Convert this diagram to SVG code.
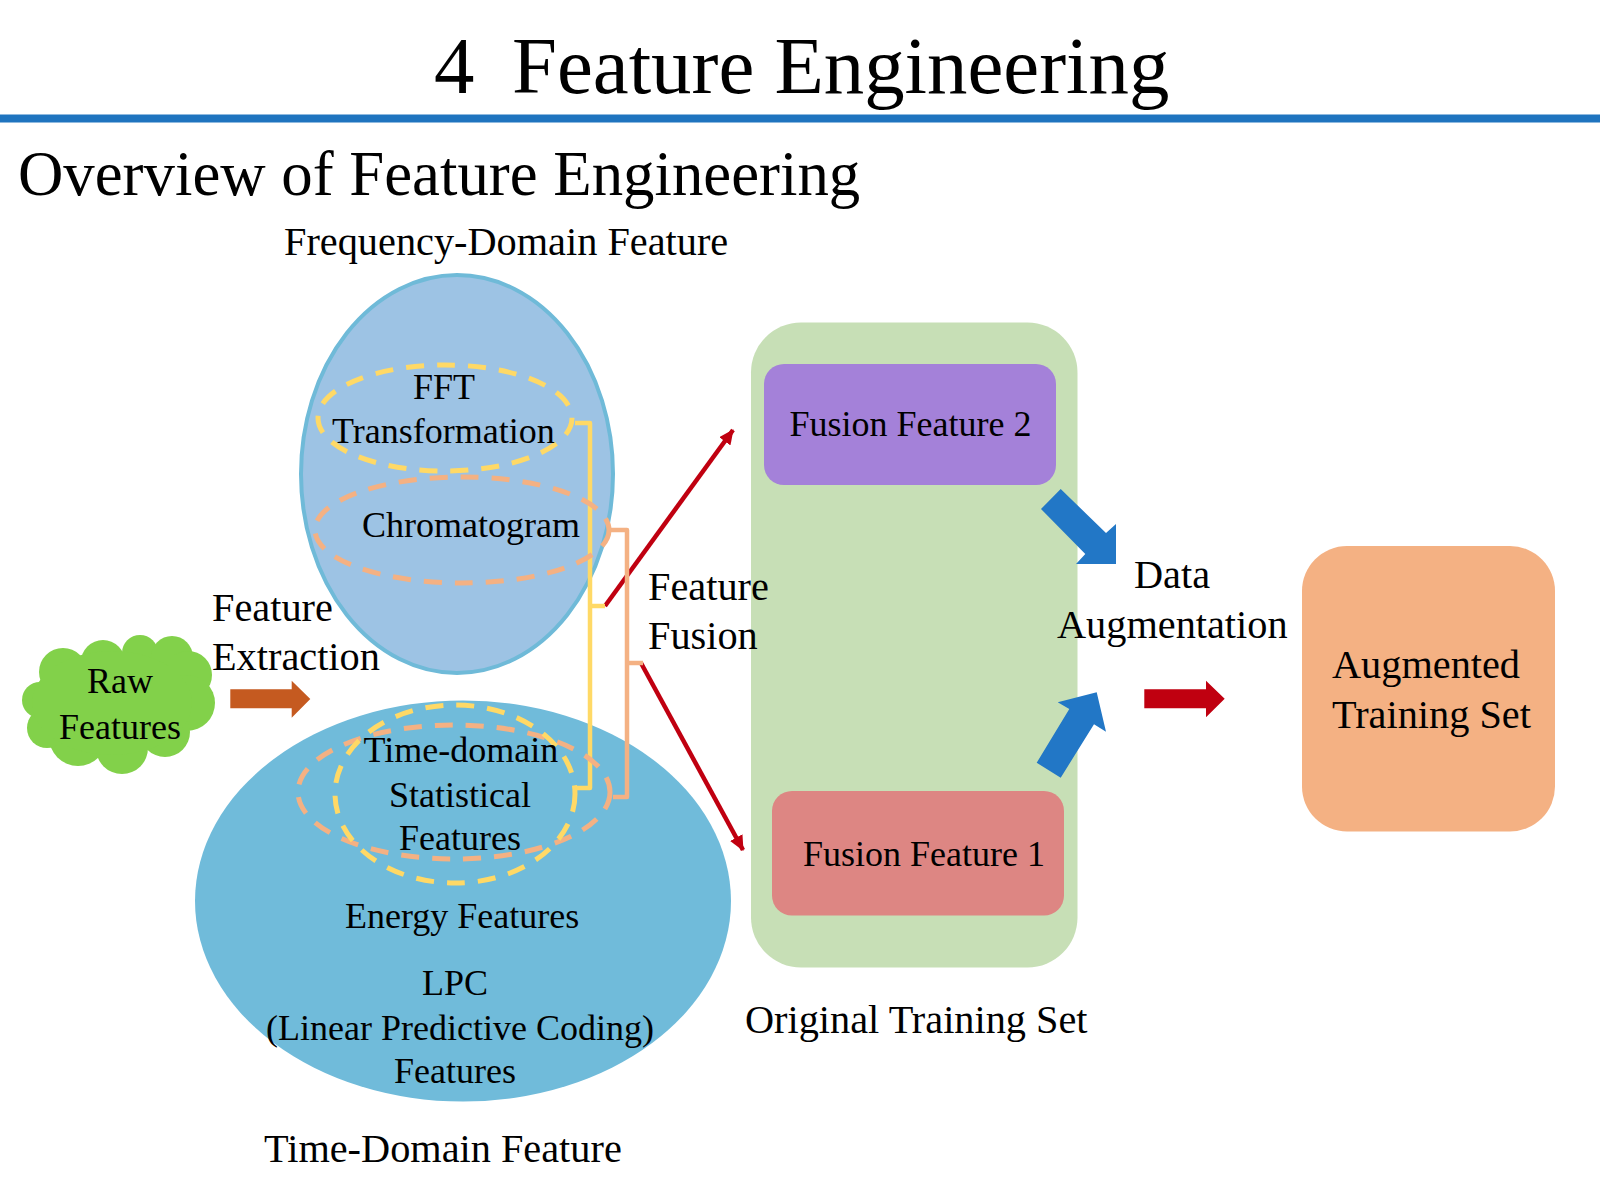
<svg xmlns="http://www.w3.org/2000/svg" width="1600" height="1200" viewBox="0 0 1600 1200">
<style>
text{font-family:"Liberation Serif","Times New Roman",serif;fill:#000;white-space:pre}
.s36{font-size:36px}.s40{font-size:40.3px}
.dash{fill:none;stroke-width:5;stroke-dasharray:18 13}
.y{stroke:#FFD966}.p{stroke:#F4B183}
.br{fill:none;stroke-width:4.5;stroke-linejoin:round}
.red{fill:none;stroke:#C00010;stroke-width:4.5;marker-end:url(#rh)}
.blue{fill:#2277C6}
</style>
<defs>
<marker id="rh" markerUnits="userSpaceOnUse" markerWidth="16" markerHeight="14" refX="14" refY="7" orient="auto"><path d="M0 0L15 7L0 14Z" fill="#C00010"/></marker>
</defs>
<rect width="1600" height="1200" fill="#fff"/>
<g id="header">
<text x="434" y="93" font-size="80.8">4</text>
<text x="512" y="93" font-size="80.8">Feature Engineering</text>
<rect x="0" y="114.500" width="1600" height="8" fill="#1F74BF"/>
<text x="18" y="195" font-size="62.800">Overview of Feature Engineering</text>
</g>
<g id="frequency-domain">
<ellipse cx="457" cy="474" rx="156" ry="199" fill="#9DC3E4" stroke="#6FBAD8" stroke-width="4"/>
<text class="s40" x="284" y="255">Frequency-Domain Feature</text>
</g>
<g id="time-domain">
<ellipse cx="463" cy="901" rx="268" ry="200.500" fill="#70BBDA"/>
<text class="s40" x="264" y="1162">Time-Domain Feature</text>
</g>
<g id="original-training-set">
<rect x="751" y="322.500" width="326.500" height="645" rx="50" fill="#C7DFB6"/>
<text class="s40" x="745" y="1033">Original Training Set</text>
</g>
<g id="fusion-feature-2">
<rect x="764" y="364" width="292" height="121" rx="20" fill="#A481D9"/>
<text class="s36" x="789.500" y="436">Fusion Feature 2</text>
</g>
<g id="fusion-feature-1">
<rect x="772" y="791" width="292" height="124.500" rx="20" fill="#DD8683"/>
<text class="s36" x="803" y="866">Fusion Feature 1</text>
</g>
<g id="augmented-training-set">
<rect x="1302" y="546" width="253" height="285.500" rx="45" fill="#F4B183"/>
<text class="s40" x="1332" y="678">Augmented</text>
<text class="s40" x="1332" y="728">Training Set</text>
</g>
<g id="raw-features">
<g fill="#82D14A">
<circle cx="63" cy="672" r="24"/><circle cx="103" cy="662" r="22"/><circle cx="140" cy="653" r="18"/><circle cx="172" cy="657" r="21"/><circle cx="188" cy="675" r="24"/><circle cx="187" cy="703" r="28"/><circle cx="165" cy="732" r="25"/><circle cx="122" cy="748" r="26"/><circle cx="78" cy="737" r="29"/><circle cx="47" cy="728" r="20"/><circle cx="40" cy="700" r="18"/><ellipse cx="112" cy="703" rx="80" ry="52"/>
</g>
<text class="s36" x="87" y="693">Raw</text>
<text class="s36" x="59" y="739">Features</text>
</g>
<g id="connectors">
<polygon points="230.3,689.3 291.7,689.3 291.7,680.7 310.3,699 291.7,717.7 291.7,708.3 230.3,708.3" fill="#C55A20"/>
<polygon class="blue" points="1041,509 1060.7,489 1106,533 1116,524 1116,564 1076,564 1085.3,554"/>
<polygon class="blue" points="1036.7,762.7 1060.7,777.7 1094,724.3 1106,731.7 1096.7,692.3 1057.7,702.3 1069.3,709"/>
<polygon points="1144.3,689.3 1206,689.3 1206,680.7 1224.7,698.7 1206,717.3 1206,708.3 1144.3,708.3" fill="#C00010"/>
<path class="red" d="M605 606L733 430"/>
<path class="red" d="M641 663L743 850"/>
<path class="br y" d="M575 423H590V788H575"/>
<path class="br y" d="M590 606H605"/>
<path class="br p" d="M608 530H627V797H613"/>
<path class="br p" d="M627 663H643"/>
</g>
<g id="fft-transformation">
<ellipse class="dash y" cx="445" cy="418" rx="127" ry="53"/>
<text class="s36" x="413" y="398.500">FFT</text>
<text class="s36" x="332" y="443">Transformation</text>
</g>
<g id="chromatogram">
<ellipse class="dash p" cx="462" cy="530" rx="147" ry="53"/>
<text class="s36" x="362" y="537">Chromatogram</text>
</g>
<g id="time-domain-statistical-features">
<ellipse class="dash p" cx="454" cy="792" rx="156" ry="67"/>
<ellipse class="dash y" cx="455" cy="794" rx="120" ry="89"/>
<text class="s36" x="363.500" y="762">Time-domain</text>
<text class="s36" x="389" y="807">Statistical</text>
<text class="s36" x="399" y="850">Features</text>
</g>
<g id="energy-features"><text class="s36" x="345" y="928">Energy Features</text></g>
<g id="lpc-features">
<text class="s36" x="422" y="995">LPC</text>
<text class="s36" x="266" y="1040">(Linear Predictive Coding)</text>
<text class="s36" x="394" y="1083">Features</text>
</g>
<g id="labels">
<text class="s40" x="212" y="621">Feature</text>
<text class="s40" x="212" y="670">Extraction</text>
<text class="s40" x="648" y="600">Feature</text>
<text class="s40" x="648" y="649">Fusion</text>
<text class="s40" x="1134" y="588">Data</text>
<text class="s40" x="1057" y="638">Augmentation</text>
</g>
</svg>
